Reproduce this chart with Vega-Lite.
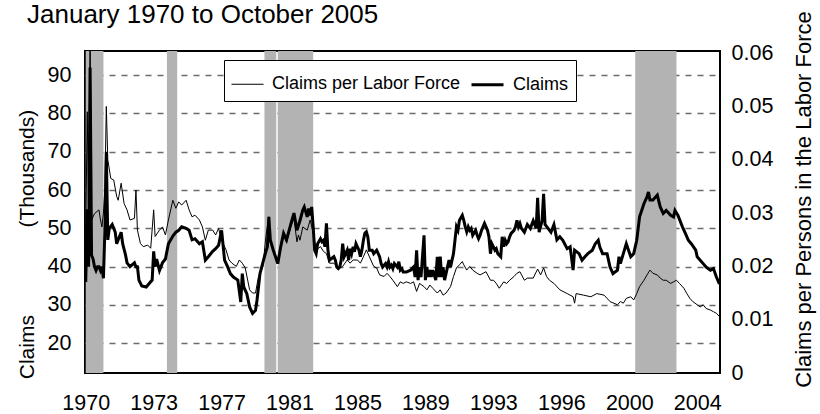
{
"$schema": "https://vega.github.io/schema/vega-lite/v6.json",
"width": 635, "height": 322,
"autosize": {"type": "none"},
"padding": {"left": 85, "top": 51, "right": 100, "bottom": 41},
"background": "white",
"config": {"font": "Liberation Sans", "view": {"stroke": "black", "strokeWidth": 2}, "axis": {"labelFont": "Liberation Sans", "titleFont": "Liberation Sans", "labelColor": "black", "titleColor": "black", "titleFontWeight": "normal"}},
"title": {"text": "January 1970 to October 2005", "anchor": "start", "frame": "group", "dx": -58, "dy": 39, "offset": 22, "fontSize": 26, "fontWeight": "normal", "color": "black", "font": "Liberation Sans"},
"datasets": {
"rec": [{"d":"1970-01","d2":"1971-01"},{"d":"1974-08","d2":"1975-03"},{"d":"1980-02","d2":"1980-10"},{"d":"1980-11","d2":"1982-11"},{"d":"2001-01","d2":"2003-05"}],
"claims": [
{"d":"1970-01","v":36},{"d":"1970-02","v":55},{"d":"1970-03","v":40},{"d":"1970-04","v":92},{"d":"1970-05","v":43},{"d":"1970-06","v":42},{"d":"1970-07","v":40},{"d":"1970-08","v":39},{"d":"1970-09","v":40},{"d":"1970-10","v":40},{"d":"1970-11","v":39},{"d":"1970-12","v":40},
{"d":"1971-01","v":37},{"d":"1971-02","v":50},{"d":"1971-03","v":70},{"d":"1971-04","v":47},{"d":"1971-05","v":50},{"d":"1971-07","v":51},{"d":"1971-09","v":49},{"d":"1971-10","v":46},
{"d":"1972-01","v":49},{"d":"1972-02","v":46},{"d":"1972-04","v":43},{"d":"1972-05","v":41},{"d":"1972-07","v":40},{"d":"1972-10","v":41},{"d":"1972-11","v":40},{"d":"1972-12","v":40},
{"d":"1973-01","v":36.5},{"d":"1973-03","v":35},{"d":"1973-06","v":34.7},{"d":"1973-08","v":35.6},{"d":"1973-10","v":36.5},{"d":"1973-11","v":44},{"d":"1973-12","v":40},
{"d":"1974-01","v":42},{"d":"1974-03","v":39},{"d":"1974-05","v":41},{"d":"1974-07","v":42},{"d":"1974-09","v":46},{"d":"1974-12","v":48},
{"d":"1975-02","v":49},{"d":"1975-04","v":49.5},{"d":"1975-06","v":50.4},{"d":"1975-09","v":50},{"d":"1975-11","v":49.5},
{"d":"1976-01","v":47},{"d":"1976-03","v":47.3},{"d":"1976-06","v":46},{"d":"1976-08","v":46.5},{"d":"1976-10","v":41.7},{"d":"1976-12","v":42.6},
{"d":"1977-03","v":44},{"d":"1977-05","v":44.7},{"d":"1977-07","v":45.6},{"d":"1977-09","v":49.5},{"d":"1977-11","v":41.7},
{"d":"1978-01","v":40},{"d":"1978-03","v":38.2},{"d":"1978-05","v":37.3},{"d":"1978-08","v":36.5},{"d":"1978-10","v":30.8},{"d":"1978-11","v":38.2},{"d":"1978-12","v":34.7},
{"d":"1979-02","v":33},{"d":"1979-04","v":29.5},{"d":"1979-06","v":27.8},{"d":"1979-08","v":28.6},{"d":"1979-09","v":31.3},{"d":"1979-11","v":38.2},
{"d":"1980-02","v":42.6},{"d":"1980-04","v":45.2},{"d":"1980-05","v":53},{"d":"1980-06","v":47},{"d":"1980-08","v":44.3},{"d":"1980-11","v":40.8},
{"d":"1981-01","v":45.2},{"d":"1981-03","v":48.7},{"d":"1981-05","v":47},{"d":"1981-08","v":51.3},{"d":"1981-10","v":54},{"d":"1981-12","v":49.5},
{"d":"1982-02","v":52},{"d":"1982-04","v":54.8},{"d":"1982-05","v":55.6},{"d":"1982-07","v":53},{"d":"1982-08","v":55.2},{"d":"1982-09","v":53.4},{"d":"1982-10","v":55.6},{"d":"1982-11","v":50.4},{"d":"1982-12","v":44.3},
{"d":"1983-01","v":43.4},{"d":"1983-02","v":46},{"d":"1983-04","v":47.3},{"d":"1983-05","v":46.5},{"d":"1983-06","v":46.9},{"d":"1983-07","v":45.2},{"d":"1983-08","v":51.3},{"d":"1983-09","v":44.3},{"d":"1983-10","v":41.7},
{"d":"1984-01","v":42.6},{"d":"1984-02","v":41.7},{"d":"1984-03","v":39.9},{"d":"1984-04","v":39.5},{"d":"1984-05","v":39.9},{"d":"1984-06","v":41.7},{"d":"1984-07","v":46},{"d":"1984-08","v":42.6},{"d":"1984-10","v":44.3},{"d":"1984-11","v":41.7},{"d":"1984-12","v":44.7},
{"d":"1985-01","v":43.4},{"d":"1985-02","v":45.2},{"d":"1985-03","v":43.9},{"d":"1985-04","v":46},{"d":"1985-06","v":44.3},{"d":"1985-07","v":42.6},{"d":"1985-08","v":44.3},{"d":"1985-09","v":46.9},{"d":"1985-10","v":48.7},{"d":"1985-11","v":49.1},{"d":"1985-12","v":47.8},
{"d":"1986-01","v":44.3},{"d":"1986-03","v":44.3},{"d":"1986-04","v":43.4},{"d":"1986-06","v":44.3},{"d":"1986-08","v":42.6},{"d":"1986-09","v":40.8},{"d":"1986-10","v":39.9},{"d":"1986-12","v":40.8},
{"d":"1987-01","v":39.9},{"d":"1987-02","v":41.3},{"d":"1987-03","v":39.9},{"d":"1987-04","v":40.4},{"d":"1987-05","v":39.5},{"d":"1987-06","v":40.8},{"d":"1987-08","v":39.9},{"d":"1987-09","v":41.3},{"d":"1987-10","v":39.1},{"d":"1987-11","v":39.5},{"d":"1987-12","v":38.6},
{"d":"1988-02","v":38.6},{"d":"1988-05","v":39.1},{"d":"1988-07","v":39.9},{"d":"1988-08","v":37.3},{"d":"1988-09","v":44.3},{"d":"1988-10","v":36.5},{"d":"1988-11","v":39.9},{"d":"1988-12","v":37.3},
{"d":"1989-02","v":48.2},{"d":"1989-03","v":36.5},{"d":"1989-04","v":39.9},{"d":"1989-05","v":37.3},{"d":"1989-06","v":39.1},{"d":"1989-07","v":37.3},{"d":"1989-08","v":39.1},{"d":"1989-10","v":36.5},{"d":"1989-11","v":42.6},{"d":"1989-12","v":37.3},
{"d":"1990-01","v":42.6},{"d":"1990-02","v":37.3},{"d":"1990-03","v":39.9},{"d":"1990-04","v":36.5},{"d":"1990-05","v":38.2},{"d":"1990-07","v":41.7},{"d":"1990-08","v":39.9},{"d":"1990-09","v":41.7},{"d":"1990-10","v":43.4},{"d":"1990-11","v":46.9},{"d":"1990-12","v":50.4},
{"d":"1991-01","v":49.5},{"d":"1991-02","v":52.1},{"d":"1991-04","v":53.4},{"d":"1991-05","v":52.1},{"d":"1991-06","v":50.4},{"d":"1991-07","v":49.1},{"d":"1991-08","v":50.4},{"d":"1991-09","v":49.5},{"d":"1991-10","v":50},{"d":"1991-11","v":48.2},
{"d":"1992-01","v":49.5},{"d":"1992-02","v":48.2},{"d":"1992-03","v":47.3},{"d":"1992-04","v":48.2},{"d":"1992-05","v":49.5},{"d":"1992-06","v":50.4},{"d":"1992-07","v":51.3},{"d":"1992-09","v":49.5},{"d":"1992-10","v":47.8},{"d":"1992-11","v":43.4},{"d":"1992-12","v":46},
{"d":"1993-01","v":45.2},{"d":"1993-02","v":44.3},{"d":"1993-03","v":44.7},{"d":"1993-04","v":43.4},{"d":"1993-06","v":42.6},{"d":"1993-07","v":47.8},{"d":"1993-08","v":45.2},{"d":"1993-09","v":46.9},{"d":"1993-10","v":46},{"d":"1993-11","v":46.5},{"d":"1993-12","v":47.8},
{"d":"1994-01","v":48.7},{"d":"1994-03","v":49.5},{"d":"1994-04","v":50.4},{"d":"1994-05","v":52.1},{"d":"1994-06","v":50.4},{"d":"1994-07","v":51.3},{"d":"1994-08","v":50},{"d":"1994-10","v":49},{"d":"1994-12","v":51},
{"d":"1995-02","v":50},{"d":"1995-04","v":52},{"d":"1995-06","v":50},{"d":"1995-07","v":58},{"d":"1995-08","v":49},{"d":"1995-10","v":52},{"d":"1995-11","v":59},{"d":"1995-12","v":51},
{"d":"1996-02","v":50},{"d":"1996-04","v":49},{"d":"1996-06","v":51},{"d":"1996-08","v":47},{"d":"1996-10","v":47.8},{"d":"1996-12","v":46.9},
{"d":"1997-03","v":44.7},{"d":"1997-05","v":45.2},{"d":"1997-07","v":39.1},{"d":"1997-08","v":44.3},{"d":"1997-11","v":43.4},
{"d":"1998-01","v":41.7},{"d":"1998-03","v":42.6},{"d":"1998-05","v":43.4},{"d":"1998-08","v":44.3},{"d":"1998-10","v":46},{"d":"1998-12","v":46.9},
{"d":"1999-01","v":45.2},{"d":"1999-03","v":43.4},{"d":"1999-06","v":43.4},{"d":"1999-08","v":39.9},{"d":"1999-10","v":38.2},
{"d":"2000-01","v":39.1},{"d":"2000-02","v":42.6},{"d":"2000-03","v":40.8},{"d":"2000-05","v":43.4},{"d":"2000-07","v":46},{"d":"2000-10","v":42.6},{"d":"2000-12","v":43.4},
{"d":"2001-02","v":46.9},{"d":"2001-04","v":53},{"d":"2001-07","v":56.5},{"d":"2001-09","v":58.2},{"d":"2001-10","v":59.5},{"d":"2001-11","v":57.4},
{"d":"2002-01","v":57.4},{"d":"2002-04","v":58.7},{"d":"2002-06","v":55.6},{"d":"2002-08","v":53.9},{"d":"2002-10","v":54.7},
{"d":"2003-01","v":53.4},{"d":"2003-03","v":53},{"d":"2003-04","v":54.7},{"d":"2003-06","v":53.4},{"d":"2003-09","v":50.4},{"d":"2003-11","v":48.7},
{"d":"2004-01","v":46.9},{"d":"2004-03","v":46},{"d":"2004-06","v":44.3},{"d":"2004-07","v":42.6},{"d":"2004-09","v":41.7},{"d":"2004-11","v":40.8},
{"d":"2005-01","v":39.9},{"d":"2005-04","v":39.1},{"d":"2005-06","v":39.5},{"d":"2005-08","v":37.3},{"d":"2005-10","v":35.5}
],
"rate": [
{"d":"1970-01","v":0.026},{"d":"1970-02","v":0.049},{"d":"1970-03","v":0.030},{"d":"1970-04","v":0.065},{"d":"1970-05","v":0.0287},{"d":"1970-07","v":0.0299},{"d":"1970-10","v":0.0306},{"d":"1970-11","v":0.0287},{"d":"1970-12","v":0.0274},
{"d":"1971-01","v":0.030},{"d":"1971-02","v":0.035},{"d":"1971-03","v":0.050},{"d":"1971-04","v":0.040},{"d":"1971-06","v":0.0365},{"d":"1971-08","v":0.0362},{"d":"1971-10","v":0.0331},{"d":"1971-11","v":0.0324},
{"d":"1972-01","v":0.0356},{"d":"1972-03","v":0.0318},{"d":"1972-05","v":0.0306},{"d":"1972-07","v":0.0287},{"d":"1972-10","v":0.029},{"d":"1972-11","v":0.0343},{"d":"1972-12","v":0.0268},
{"d":"1973-02","v":0.0243},{"d":"1973-04","v":0.0237},{"d":"1973-07","v":0.024},{"d":"1973-09","v":0.0234},{"d":"1973-11","v":0.0306},{"d":"1973-12","v":0.0256},
{"d":"1974-03","v":0.0268},{"d":"1974-05","v":0.0274},{"d":"1974-07","v":0.0259},{"d":"1974-09","v":0.0287},{"d":"1974-12","v":0.0324},
{"d":"1975-02","v":0.0309},{"d":"1975-04","v":0.0321},{"d":"1975-06","v":0.0315},{"d":"1975-09","v":0.0324},{"d":"1975-11","v":0.0306},
{"d":"1976-01","v":0.0293},{"d":"1976-03","v":0.0296},{"d":"1976-06","v":0.0287},{"d":"1976-08","v":0.0274},{"d":"1976-10","v":0.0249},{"d":"1976-12","v":0.0268},
{"d":"1977-03","v":0.0268},{"d":"1977-05","v":0.0259},{"d":"1977-07","v":0.0271},{"d":"1977-09","v":0.0249},{"d":"1977-12","v":0.0231},
{"d":"1978-02","v":0.0212},{"d":"1978-04","v":0.0206},{"d":"1978-07","v":0.02},{"d":"1978-09","v":0.0212},{"d":"1978-11","v":0.0206},
{"d":"1979-01","v":0.0197},{"d":"1979-04","v":0.0156},{"d":"1979-06","v":0.015},{"d":"1979-08","v":0.015},{"d":"1979-10","v":0.0181},
{"d":"1980-01","v":0.02},{"d":"1980-03","v":0.0256},{"d":"1980-05","v":0.0293},{"d":"1980-06","v":0.0245},{"d":"1980-08","v":0.023},{"d":"1980-11","v":0.0205},
{"d":"1981-01","v":0.0235},{"d":"1981-03","v":0.0258},{"d":"1981-05","v":0.0245},{"d":"1981-08","v":0.0275},{"d":"1981-10","v":0.029},{"d":"1981-12","v":0.0246},
{"d":"1982-01","v":0.0259},{"d":"1982-02","v":0.0249},{"d":"1982-04","v":0.0274},{"d":"1982-07","v":0.0268},{"d":"1982-09","v":0.0287},{"d":"1982-11","v":0.0262},
{"d":"1983-01","v":0.0231},{"d":"1983-04","v":0.0237},{"d":"1983-06","v":0.0228},{"d":"1983-08","v":0.0224},{"d":"1983-10","v":0.0206},
{"d":"1984-01","v":0.0206},{"d":"1984-03","v":0.02},{"d":"1984-05","v":0.0197},{"d":"1984-07","v":0.02},{"d":"1984-10","v":0.0212},{"d":"1984-12","v":0.0206},
{"d":"1985-02","v":0.0212},{"d":"1985-05","v":0.0212},{"d":"1985-07","v":0.0206},{"d":"1985-09","v":0.0218},{"d":"1985-11","v":0.0231},
{"d":"1986-02","v":0.0212},{"d":"1986-04","v":0.02},{"d":"1986-06","v":0.0197},{"d":"1986-08","v":0.0184},{"d":"1986-11","v":0.0181},
{"d":"1987-01","v":0.0187},{"d":"1987-03","v":0.0181},{"d":"1987-05","v":0.0174},{"d":"1987-08","v":0.0162},{"d":"1987-10","v":0.0171},{"d":"1987-12","v":0.0168},
{"d":"1988-02","v":0.0171},{"d":"1988-05","v":0.0168},{"d":"1988-07","v":0.0171},{"d":"1988-09","v":0.0153},{"d":"1988-11","v":0.0168},
{"d":"1989-02","v":0.0162},{"d":"1989-04","v":0.0156},{"d":"1989-06","v":0.0165},{"d":"1989-08","v":0.0159},{"d":"1989-11","v":0.015},
{"d":"1990-01","v":0.0156},{"d":"1990-03","v":0.0146},{"d":"1990-05","v":0.015},{"d":"1990-08","v":0.0162},{"d":"1990-10","v":0.0181},{"d":"1990-12","v":0.0197},
{"d":"1991-02","v":0.0203},{"d":"1991-04","v":0.0209},{"d":"1991-05","v":0.0203},{"d":"1991-07","v":0.0193},{"d":"1991-09","v":0.02},{"d":"1991-11","v":0.0193},
{"d":"1992-02","v":0.0187},{"d":"1992-04","v":0.0184},{"d":"1992-06","v":0.0187},{"d":"1992-08","v":0.019},{"d":"1992-11","v":0.0174},
{"d":"1993-01","v":0.0174},{"d":"1993-03","v":0.0168},{"d":"1993-05","v":0.0159},{"d":"1993-08","v":0.0171},{"d":"1993-10","v":0.0168},{"d":"1993-12","v":0.0174},
{"d":"1994-03","v":0.0181},{"d":"1994-05","v":0.0187},{"d":"1994-07","v":0.019},{"d":"1994-10","v":0.0174},{"d":"1994-12","v":0.0178},
{"d":"1995-04","v":0.0178},{"d":"1995-07","v":0.0195},{"d":"1995-09","v":0.0184},{"d":"1995-11","v":0.0197},
{"d":"1996-01","v":0.0181},{"d":"1996-03","v":0.0174},{"d":"1996-06","v":0.0168},{"d":"1996-10","v":0.0156},
{"d":"1997-03","v":0.0149},{"d":"1997-07","v":0.0143},{"d":"1997-08","v":0.0131},{"d":"1997-09","v":0.0149},
{"d":"1998-02","v":0.0146},{"d":"1998-07","v":0.0143},{"d":"1998-11","v":0.0149},
{"d":"1999-04","v":0.0146},{"d":"1999-08","v":0.0134},
{"d":"2000-01","v":0.0128},{"d":"2000-03","v":0.0134},{"d":"2000-05","v":0.0131},{"d":"2000-07","v":0.014},{"d":"2000-10","v":0.0143},{"d":"2000-12","v":0.0137},
{"d":"2001-02","v":0.0149},{"d":"2001-04","v":0.0162},{"d":"2001-07","v":0.0174},{"d":"2001-09","v":0.0184},{"d":"2001-11","v":0.0193},
{"d":"2002-01","v":0.0187},{"d":"2002-04","v":0.0184},{"d":"2002-06","v":0.0178},{"d":"2002-08","v":0.0174},{"d":"2002-10","v":0.0174},
{"d":"2003-01","v":0.0168},{"d":"2003-03","v":0.0171},{"d":"2003-05","v":0.0174},{"d":"2003-07","v":0.0168},{"d":"2003-10","v":0.0159},{"d":"2003-12","v":0.0149},
{"d":"2004-02","v":0.014},{"d":"2004-04","v":0.0134},{"d":"2004-07","v":0.0128},{"d":"2004-09","v":0.0124},{"d":"2004-11","v":0.0128},
{"d":"2005-01","v":0.0121},{"d":"2005-04","v":0.0118},{"d":"2005-06","v":0.0115},{"d":"2005-08","v":0.0112},{"d":"2005-10","v":0.0106}
]
},
"encoding": {
"x": {"field": "d", "type": "temporal", "title": null,
 "scale": {"domain": [{"year": 1969, "month": 12, "date": 17}, {"year": 2005, "month": 10, "date": 14}]},
 "axis": {"values": [{"year": 1970, "month": 1, "date": 1}, {"year": 1973, "month": 11, "date": 1}, {"year": 1977, "month": 9, "date": 1}, {"year": 1981, "month": 7, "date": 1}, {"year": 1985, "month": 5, "date": 1}, {"year": 1989, "month": 3, "date": 1}, {"year": 1993, "month": 1, "date": 1}, {"year": 1996, "month": 11, "date": 1}, {"year": 2000, "month": 9, "date": 1}, {"year": 2004, "month": 7, "date": 1}],
  "format": "%Y", "ticks": false, "domain": false, "grid": false, "labelFontSize": 21.5, "labelPadding": 19, "labelFlush": false, "labelOverlap": false, "labelBound": false}}
},
"layer": [
{"data": {"name": "rec", "format": {"parse": {"d": "date:'%Y-%m'", "d2": "date:'%Y-%m'"}}},
 "mark": {"type": "rect", "color": "#b3b3b3"},
 "encoding": {"x2": {"field": "d2"}}},
{"data": {"name": "rate", "format": {"parse": {"d": "date:'%Y-%m'"}}},
 "mark": {"type": "line", "color": "black", "clip": true},
 "encoding": {
  "y": {"field": "v", "type": "quantitative", "scale": {"domain": [0, 0.0604], "nice": false, "zero": false},
   "axis": {"orient": "right", "values": [0, 0.01, 0.02, 0.03, 0.04, 0.05, 0.06], "format": "~g", "grid": false, "ticks": false, "domain": false, "labelFontSize": 21.5, "labelPadding": 11, "title": "Claims per Persons in the Labor Force", "titleFontSize": 22, "titleAngle": -90, "titleX": 83, "titleY": 148, "titleAlign": "center", "titleBaseline": "middle"}},
  "strokeWidth": {"datum": "Claims per Labor Force", "type": "ordinal", "scale": {"domain": ["Claims per Labor Force", "Claims"], "range": [1, 3]},
   "legend": {"orient": "none", "legendX": 139, "legendY": 9, "direction": "horizontal", "title": null, "fillColor": "white", "strokeColor": "black", "padding": 7, "labelFontSize": 18, "labelLimit": 400, "labelFont": "Liberation Sans", "labelColor": "black", "symbolType": "stroke", "symbolSize": 1024, "symbolStrokeColor": "black", "labelOffset": 8, "columnPadding": 4}}
 }},
{"data": {"name": "claims", "format": {"parse": {"d": "date:'%Y-%m'"}}},
 "mark": {"type": "line", "color": "black", "clip": true},
 "encoding": {
  "y": {"field": "v", "type": "quantitative", "scale": {"domain": [12.25, 96.3], "nice": false, "zero": false},
   "axis": {"orient": "left", "values": [20, 30, 40, 50, 60, 70, 80, 90], "grid": true, "gridDash": [6, 6], "gridColor": "#6b6b6b", "gridWidth": 1.5, "ticks": false, "domain": false, "labelFontSize": 21.5, "labelPadding": 14, "title": "Claims\u00a0\u00a0\u00a0\u00a0\u00a0\u00a0\u00a0\u00a0\u00a0\u00a0\u00a0\u00a0\u00a0\u00a0\u00a0(Thousands)", "titleFontSize": 21, "titleAngle": -90, "titleX": -58, "titleY": 193, "titleAlign": "center", "titleBaseline": "middle"}},
  "strokeWidth": {"datum": "Claims", "type": "ordinal"}
 }}
],
"resolve": {"scale": {"y": "independent"}, "axis": {"y": "independent"}}
}
